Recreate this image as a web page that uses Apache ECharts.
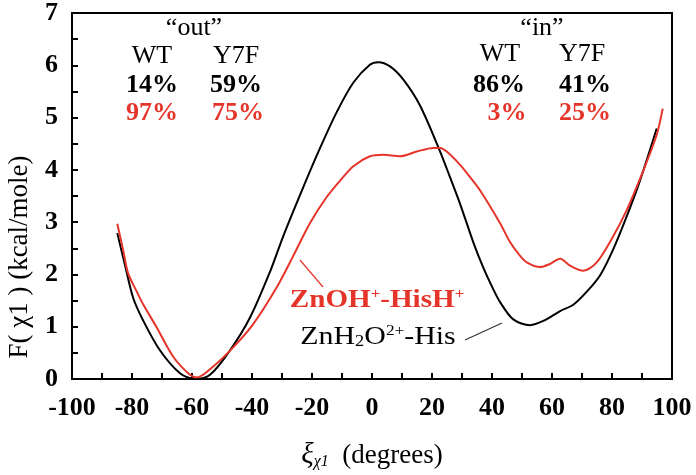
<!DOCTYPE html>
<html>
<head>
<meta charset="utf-8">
<script src="https://cdn.jsdelivr.net/npm/echarts@6/dist/echarts.min.js"></script>
<style>
  html, body { margin: 0; padding: 0; background: #fff; }
  #main { width: 696px; height: 475px; }
</style>
</head>
<body>
<div id="main"></div>
<script>
// ZnH2O2+-His (black)
const blackX = [-84.9, -82.3, -79.6, -76.2, -70.7, -64, -59, -54, -47.3, -40.7, -34, -29.6, -22.9, -17.3, -11.8, -6.2, -0.7, 2.1, 6, 10.4, 16, 22.7, 26, 29.3, 33.8, 37.1, 40.4, 42.7, 47.1, 52.7, 57.1, 62.7, 67.1, 71.6, 76, 80.4, 84.9, 89.3, 94.9]
const blackY = [2.79, 2.17, 1.55, 1.11, 0.55, 0.11, 0.0, 0.08, 0.55, 1.17, 2.05, 2.73, 3.67, 4.42, 5.10, 5.67, 6.01, 6.06, 5.98, 5.73, 5.23, 4.35, 3.86, 3.36, 2.61, 2.13, 1.72, 1.47, 1.14, 1.03, 1.11, 1.30, 1.42, 1.67, 1.98, 2.48, 3.11, 3.79, 4.79]
// ZnOH+-HisH+ (red)
const redX = [-84.9, -82.9, -81.3, -78.4, -76.2, -71.8, -66.2, -60.7, -58.4, -52.9, -46.2, -39.6, -31.8, -26.2, -20.7, -15.1, -10.7, -6.2, -0.7, 3.8, 9.3, 14.9, 20.4, 22.7, 24.9, 29.3, 32.7, 36, 42.7, 46, 49.3, 51.6, 56, 59.3, 62.7, 66, 70.4, 74.9, 80.4, 84.9, 90.4, 94.9, 96.9]
const redY = [2.97, 2.45, 2.02, 1.67, 1.42, 0.99, 0.42, 0.08, 0.03, 0.24, 0.61, 1.05, 1.75, 2.36, 2.98, 3.48, 3.79, 4.07, 4.26, 4.29, 4.26, 4.35, 4.42, 4.42, 4.35, 4.10, 3.86, 3.61, 2.98, 2.62, 2.36, 2.23, 2.14, 2.20, 2.30, 2.17, 2.07, 2.23, 2.73, 3.23, 3.98, 4.67, 5.17]

const outPct = { WT: ['14%', '97%'], Y7F: ['59%', '75%'] }
const inPct = { WT: ['86%', '3%'], Y7F: ['41%', '25%'] }

const RED = '#e5352a'
const SERIF = '"Liberation Serif", "DejaVu Serif", serif'

const pairs = (xs, ys) => xs.map((x, i) => [x, ys[i]])

const txt = (text, x, y, opts) => {
  return {
    type: 'text',
    x: x,
    y: y,
    style: Object.assign({
      text: text,
      fontFamily: SERIF,
      fontSize: 26,
      fill: '#000',
      align: 'center',
      verticalAlign: 'middle'
    }, opts || {})
  }
}

const chart = echarts.init(document.getElementById('main'))

const option = {
  animation: false,
  grid: {
    left: 72,
    right: 24,
    top: 12,
    bottom: 89,
    show: true,
    borderColor: '#000',
    borderWidth: 2
  },
  xAxis: {
    type: 'value',
    min: -100,
    max: 100,
    interval: 10,
    splitLine: { show: false },
    axisLine: { onZero: false, lineStyle: { color: '#000', width: 2 } },
    axisTick: { inside: true, length: 6, lineStyle: { color: '#000', width: 2 } },
    axisLabel: {
      margin: 16,
      fontFamily: SERIF,
      fontWeight: 'bold',
      fontSize: 26,
      color: '#000',
      formatter: v => (v % 20 === 0 ? String(v) : '')
    },
    name: '{g|ξ}{s|χ1}{n|  (degrees)}',
    nameLocation: 'middle',
    nameGap: 62,
    nameTextStyle: {
      rich: {
        g: { fontFamily: SERIF, fontStyle: 'italic', fontSize: 29, color: '#000' },
        s: { fontFamily: SERIF, fontStyle: 'italic', fontSize: 16, color: '#000', verticalAlign: 'bottom' },
        n: { fontFamily: SERIF, fontSize: 27, color: '#000' }
      }
    }
  },
  yAxis: {
    type: 'value',
    min: 0,
    max: 7,
    interval: 0.5,
    splitLine: { show: false },
    axisLine: { onZero: false, lineStyle: { color: '#000', width: 2 } },
    axisTick: { inside: true, length: 6, lineStyle: { color: '#000', width: 2 } },
    axisLabel: {
      margin: 14,
      fontFamily: SERIF,
      fontWeight: 'bold',
      fontSize: 26,
      color: '#000',
      formatter: v => (Number.isInteger(v) ? String(v) : '')
    }
  },
  series: [
    {
      name: 'ZnH2O2+-His',
      type: 'line',
      data: pairs(blackX, blackY),
      smooth: 0.3,
      showSymbol: false,
      lineStyle: { color: '#000', width: 2 },
      z: 3
    },
    {
      name: 'ZnOH+-HisH+',
      type: 'line',
      data: pairs(redX, redY),
      smooth: 0.3,
      showSymbol: false,
      lineStyle: { color: RED, width: 2 },
      z: 4
    }
  ],
  graphic: [
    // y axis title
    {
      type: 'text',
      x: 20,
      y: 257,
      rotation: Math.PI / 2,
      style: {
        text: 'F( χ1 ) (kcal/mole)',
        fontFamily: SERIF,
        fontSize: 27,
        fill: '#000',
        align: 'center',
        verticalAlign: 'middle'
      }
    },
    // "out" block
    txt('\u201Cout\u201D', 194, 28),
    txt('WT', 152, 56),
    txt('Y7F', 236, 56),
    txt(outPct.WT[0], 152, 85, { fontWeight: 'bold' }),
    txt(outPct.Y7F[0], 236, 85, { fontWeight: 'bold' }),
    txt(outPct.WT[1], 152, 113, { fontWeight: 'bold', fill: RED }),
    txt(outPct.Y7F[1], 238, 113, { fontWeight: 'bold', fill: RED }),
    // "in" block
    txt('\u201Cin\u201D', 542, 28),
    txt('WT', 500, 54),
    txt('Y7F', 582, 54),
    txt(inPct.WT[0], 499, 85, { fontWeight: 'bold' }),
    txt(inPct.Y7F[0], 585, 85, { fontWeight: 'bold' }),
    txt(inPct.WT[1], 507, 113, { fontWeight: 'bold', fill: RED }),
    txt(inPct.Y7F[1], 585, 113, { fontWeight: 'bold', fill: RED }),
    // curve labels
    {
      type: 'text',
      x: 377,
      y: 300,
      scaleX: 1.12,
      style: {
        text: '{a|ZnOH}{s|+}{a|-HisH}{s|+}',
        align: 'center',
        verticalAlign: 'middle',
        rich: {
          a: { fontFamily: SERIF, fontWeight: 'bold', fontSize: 26, fill: RED, color: RED },
          s: { fontFamily: SERIF, fontWeight: 'bold', fontSize: 15, fill: RED, color: RED, verticalAlign: 'top' }
        }
      }
    },
    {
      type: 'text',
      x: 378,
      y: 337,
      scaleX: 1.15,
      style: {
        text: '{a|ZnH}{b|2}{a|O}{s|2+}{a|-His}',
        align: 'center',
        verticalAlign: 'middle',
        rich: {
          a: { fontFamily: SERIF, fontSize: 26, fill: '#000', color: '#000' },
          b: { fontFamily: SERIF, fontSize: 16, fill: '#000', color: '#000', verticalAlign: 'bottom' },
          s: { fontFamily: SERIF, fontSize: 15, fill: '#000', color: '#000', verticalAlign: 'top' }
        }
      }
    },
    // leader lines
    {
      type: 'line',
      shape: { x1: 300, y1: 260, x2: 323, y2: 287 },
      style: { stroke: RED, lineWidth: 1.2 }
    },
    {
      type: 'line',
      shape: { x1: 465, y1: 340, x2: 502, y2: 323 },
      style: { stroke: '#333', lineWidth: 1.2 }
    }
  ]
}

chart.setOption(option)
</script>
</body>
</html>
